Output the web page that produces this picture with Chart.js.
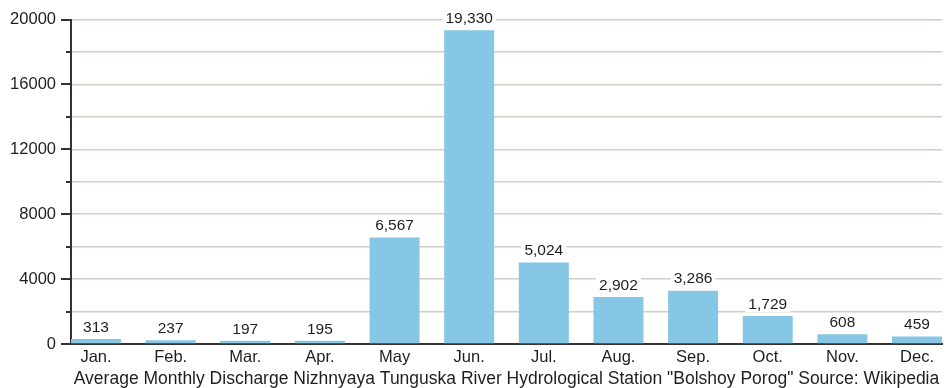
<!DOCTYPE html>
<html>
<head>
<meta charset="utf-8">
<script src="https://cdn.jsdelivr.net/npm/chart.js@4/dist/chart.umd.min.js"></script>
<style>
  html, body { margin: 0; padding: 0; background: #ffffff; }
  #wrap { width: 948px; height: 388px; position: relative; }
</style>
</head>
<body>
<div id="wrap"><canvas id="c"></canvas></div>
<script>
// Average monthly discharge, m³/s
const months = ['Jan.', 'Feb.', 'Mar.', 'Apr.', 'May', 'Jun.', 'Jul.', 'Aug.', 'Sep.', 'Oct.', 'Nov.', 'Dec.'];
const discharge = [313, 237, 197, 195, 6567, 19330, 5024, 2902, 3286, 1729, 608, 459];
const yTicksLabelled = [0, 4000, 8000, 12000, 16000, 20000];
const caption = 'Average Monthly Discharge Nizhnyaya Tunguska River Hydrological Station "Bolshoy Porog" Source: Wikipedia';

const FONT = '"Liberation Sans", Arial, Helvetica, sans-serif';
const TEXT = '#1e1e1e';
const AXIS = '#333333';

// Value labels above each bar, on a white backing so gridlines break around them
const valueLabels = {
  id: 'valueLabels',
  afterDatasetsDraw(chart) {
    const ctx = chart.ctx;
    const meta = chart.getDatasetMeta(0);
    ctx.save();
    ctx.font = '15.5px ' + FONT;
    ctx.textAlign = 'center';
    ctx.textBaseline = 'middle';
    meta.data.forEach((bar, i) => {
      const txt = discharge[i].toLocaleString('en-US');
      const w = ctx.measureText(txt).width;
      const cy = bar.y - 11.5;
      ctx.fillStyle = '#ffffff';
      ctx.fillRect(bar.x - w / 2 - 3, cy - 8, w + 6, 16);
      ctx.fillStyle = TEXT;
      ctx.fillText(txt, bar.x, cy);
    });
    ctx.restore();
  }
};

// Tick marks on the value axis: long at labelled values, short in between
const yTickMarks = {
  id: 'yTickMarks',
  afterDraw(chart) {
    const y = chart.scales.y;
    const ctx = chart.ctx;
    const x0 = chart.chartArea.left;
    ctx.save();
    ctx.strokeStyle = AXIS;
    ctx.lineWidth = 2;
    y.ticks.forEach(t => {
      const py = Math.round(y.getPixelForValue(t.value));
      const len = yTicksLabelled.includes(t.value) ? 10 : 5;
      ctx.beginPath();
      ctx.moveTo(x0 - len, py);
      ctx.lineTo(x0, py);
      ctx.stroke();
    });
    ctx.restore();
  }
};

new Chart(document.getElementById('c'), {
  type: 'bar',
  data: {
    datasets: [{
      data: discharge.map((v, i) => ({ x: i, y: v })),
      backgroundColor: '#86c7e6',
      borderWidth: 0,
      categoryPercentage: 1,
      barPercentage: 0.67
    }]
  },
  options: {
    responsive: true,
    maintainAspectRatio: false,
    animation: false,
    events: [],
    layout: { padding: { top: 19.5, right: 6, left: 0, bottom: 0 } },
    plugins: { legend: { display: false }, tooltip: { enabled: false } },
    scales: {
      x: {
        type: 'linear',
        offset: false,
        min: -0.335,
        max: 11.335,
        afterBuildTicks(scale) {
          scale.ticks = months.map((_, i) => ({ value: i }));
        },
        afterFit(scale) { scale.height = 44; },
        ticks: {
          autoSkip: false,
          maxRotation: 0,
          padding: 4,
          color: TEXT,
          font: { family: FONT, size: 16.5 },
          callback: (v) => months[v]
        },
        grid: { display: true, offset: false, drawOnChartArea: false, drawTicks: false },
        border: { display: true, color: AXIS, width: 2 },
        title: {
          display: true,
          text: caption,
          color: TEXT,
          font: { family: FONT, size: 17.5, lineHeight: 1.0 },
          padding: { top: 1, bottom: 0 }
        }
      },
      y: {
        min: 0,
        max: 20000,
        afterFit(scale) {
          scale.width = 71;
          scale.paddingTop = 0;
          scale.paddingBottom = 0;
        },
        ticks: {
          stepSize: 2000,
          padding: 15,
          color: TEXT,
          font: { family: FONT, size: 16.5 },
          callback: (v) => yTicksLabelled.includes(v) ? String(v) : ''
        },
        grid: {
          color: '#d6cbc6',
          lineWidth: 1.5,
          drawTicks: false
        },
        border: { display: true, color: AXIS, width: 2 }
      }
    }
  },
  plugins: [valueLabels, yTickMarks]
});
</script>
</body>
</html>
